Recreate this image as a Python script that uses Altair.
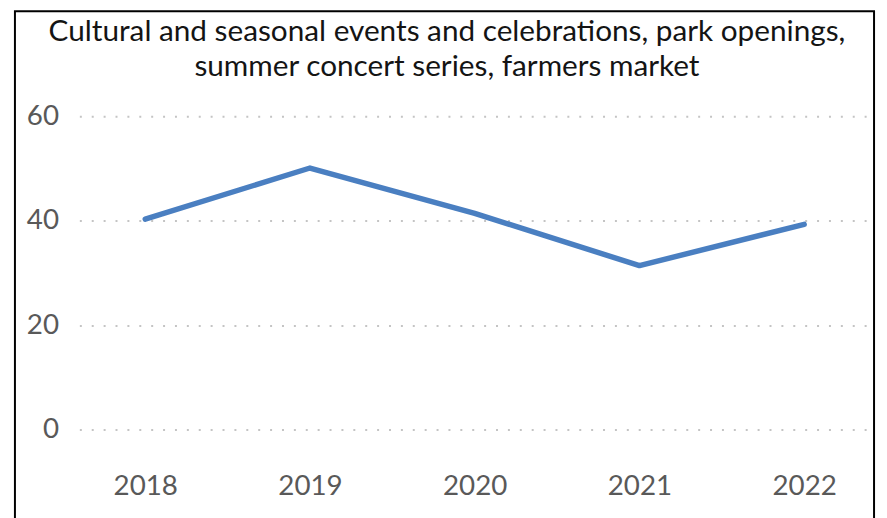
import altair as alt
import pandas as pd

years = ["2018", "2019", "2020", "2021", "2022"]
values = [40.3, 50.1, 41.4, 31.4, 39.3]
y_ticks = [0, 20, 40, 60]
title_lines = ["Cultural and seasonal events and celebrations, park openings,",
               "summer concert series, farmers market"]

df = pd.DataFrame({"year": years, "value": values})

FONT = "Lato"

line = alt.Chart(df).mark_line(
    color="#4a7fc1", strokeWidth=5.5, strokeCap="round", strokeJoin="round"
).encode(
    x=alt.X("year:N", sort=years,
            scale=alt.Scale(type="point", padding=0.4),
            axis=alt.Axis(title=None, labelAngle=0, domain=False, ticks=False,
                          grid=False, labelPadding=44, labelFontSize=28,
                          labelColor="#595959", labelFont=FONT)),
    y=alt.Y("value:Q", scale=alt.Scale(domain=[0, 60], nice=False),
            axis=alt.Axis(title=None, values=y_ticks, domain=False, ticks=False,
                          grid=True, gridColor="#c4c4c4", gridWidth=2,
                          gridDash=[2, 10], labelPadding=21, labelFontSize=28,
                          labelColor="#595959", labelFont=FONT)),
)

one = pd.DataFrame({"a": [0]})

frame = alt.Chart(one).mark_rect(
    fill=None, stroke="black", strokeWidth=2
).encode(
    x=alt.value(-65), x2=alt.value(802), y=alt.value(-106), y2=alt.value(420)
)

title1 = alt.Chart(one).mark_text(
    text=title_lines[0], font=FONT, fontSize=30, color="#141414",
    align="center", baseline="alphabetic"
).encode(x=alt.value(371), y=alt.value(-76))

title2 = alt.Chart(one).mark_text(
    text=title_lines[1], font=FONT, fontSize=30, color="#141414",
    align="center", baseline="alphabetic"
).encode(x=alt.value(371), y=alt.value(-41))

chart = alt.layer(line, frame, title1, title2).properties(
    width=798, height=316,
    autosize=alt.AutoSizeParams(type="none"),
    padding={"left": 72, "top": 107, "right": 9, "bottom": 87},
).configure_view(stroke=None)

chart.save("out.html", embed_options={"renderer": "svg", "actions": False})
